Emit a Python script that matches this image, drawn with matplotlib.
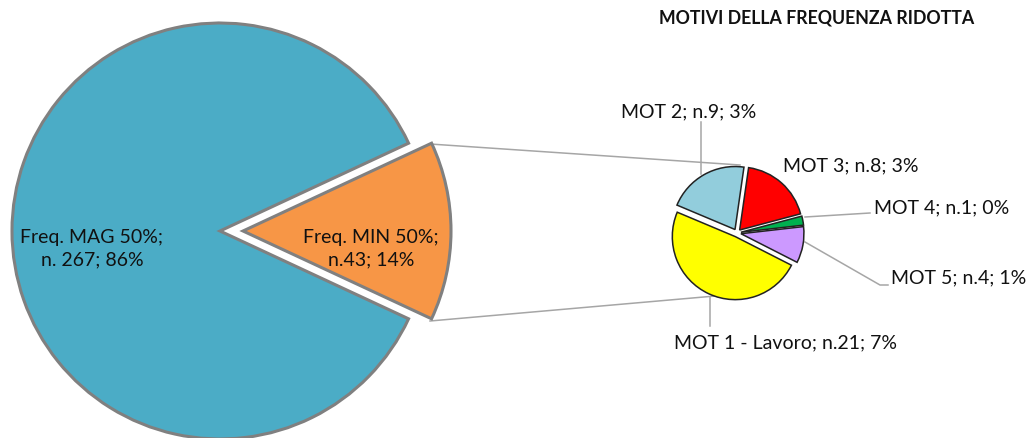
import matplotlib
matplotlib.use("Agg")
import matplotlib.pyplot as plt

# main pie data
main_labels = ["Freq. MAG 50%;\nn. 267; 86%", "Freq. MIN 50%;\nn.43; 14%"]
main_values = [267, 43]
main_colors = ["#4BACC6", "#F79646"]

# breakdown of the reduced frequency (second pie)
mot_names = ["MOT 1 - Lavoro", "MOT 2", "MOT 3", "MOT 4", "MOT 5"]
mot_values = [21, 9, 8, 1, 4]
mot_colors = ["#FFFF00", "#92CDDC", "#FF0000", "#00B050", "#CC99FF"]

total = sum(main_values)
W, H = 1032, 439

plt.rcParams['font.family'] = ['Lato', 'DejaVu Sans']

fig = plt.figure(figsize=(10.32, 4.39), dpi=100)
ax = fig.add_axes([0, 0, 1, 1])

def Y(y):
    # pixel row -> data y
    return H - y

# big pie (explode is in data units here)
big_c = (220, Y(232))
big_r = 208
half = 360 * main_values[1] / total / 2
ax.pie(main_values, colors=main_colors, center=big_c, radius=big_r,
       startangle=half, counterclock=True, explode=[0, 23],
       wedgeprops=dict(edgecolor="#808080", linewidth=2.2))

ax.text(92, Y(249), main_labels[0], ha="center", va="center", fontsize=14,
        linespacing=1.4, color="#111111")
ax.text(371, Y(249), main_labels[1], ha="center", va="center", fontsize=14,
        linespacing=1.4, color="#111111")

# connector lines
ax.plot([430, 740], [Y(145), Y(166)], color="#A6A6A6", lw=1.1, zorder=0)
ax.plot([430, 738], [Y(322), Y(295)], color="#A6A6A6", lw=1.1, zorder=0)

# small pie
small_c = (737, Y(234))
small_r = 63
ax.pie(mot_values, colors=mot_colors, center=small_c, radius=small_r,
       startangle=-27, counterclock=False, explode=[4] * 5,
       wedgeprops=dict(edgecolor="#222222", linewidth=1.1))

def mot_label(i):
    pct = round(100 * mot_values[i] / total)
    return f"{mot_names[i]}; n.{mot_values[i]}; {pct}%"

lc = "#A6A6A6"
# leader lines
ax.plot([701, 701], [Y(123), Y(175)], color=lc, lw=1.1, zorder=0)
ax.plot([805, 870], [Y(218), Y(214)], color=lc, lw=1.1, zorder=0)
ax.plot([805, 880, 888], [Y(243), Y(286), Y(286)], color=lc, lw=1.1, zorder=0)
ax.plot([710, 710], [Y(298), Y(327)], color=lc, lw=1.1, zorder=0)

fs = 14
ax.text(689, Y(112), mot_label(1), ha="center", va="center", fontsize=fs, color="#111111")
ax.text(783, Y(166), mot_label(2), ha="left", va="center", fontsize=fs, color="#111111")
ax.text(874, Y(208), mot_label(3), ha="left", va="center", fontsize=fs, color="#111111")
ax.text(891, Y(278), mot_label(4), ha="left", va="center", fontsize=fs, color="#111111")
ax.text(786, Y(343), mot_label(0), ha="center", va="center", fontsize=fs, color="#111111")

ax.text(817, Y(18), "MOTIVI DELLA FREQUENZA RIDOTTA", ha="center", va="center",
        fontsize=12.8, fontweight="bold", color="#111111")

ax.set_xlim(0, W)
ax.set_ylim(0, H)
ax.set_aspect("auto")
ax.axis("off")

fig.savefig("out.png", dpi=100)
